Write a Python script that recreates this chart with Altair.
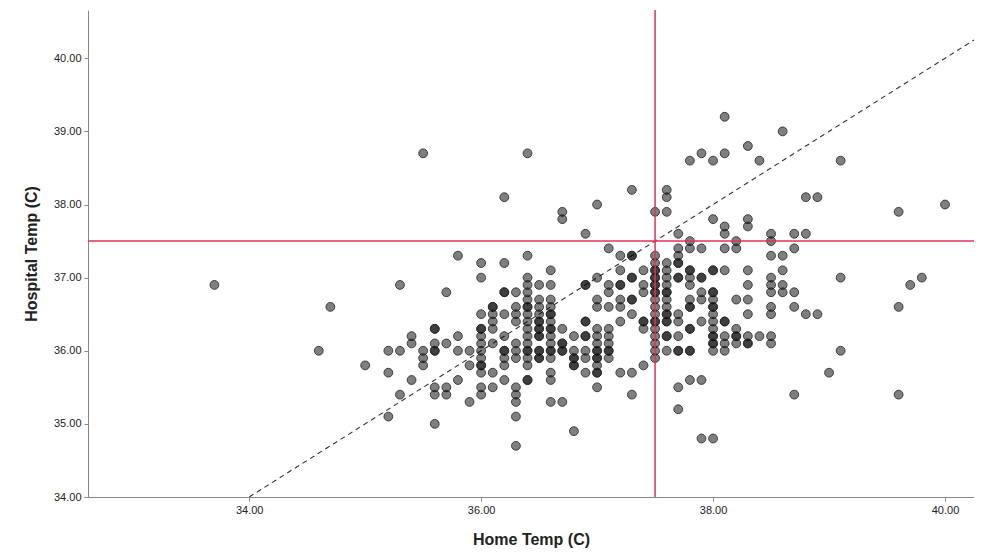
import altair as alt
import pandas as pd

# Home temperature columns (x) and the hospital temperatures (y) observed in each column
home_columns = [33.7, 34.6, 34.7, 35.0, 35.2, 35.3, 35.4, 35.5, 35.6, 35.7, 35.8, 35.9,
                36.0, 36.1, 36.2, 36.3, 36.4, 36.5, 36.6, 36.7, 36.8, 36.9,
                37.0, 37.1, 37.2, 37.3, 37.4, 37.5, 37.6, 37.7, 37.8, 37.9,
                38.0, 38.1, 38.2, 38.3, 38.4, 38.5, 38.6, 38.7, 38.8, 38.9,
                39.0, 39.1, 39.6, 39.7, 39.8, 40.0]
hospital_by_column = [
    [36.9],
    [36.0],
    [36.6],
    [35.8],
    [36.0, 35.7, 35.1],
    [36.9, 36.0, 35.4],
    [36.2, 36.1, 35.6],
    [38.7, 36.0, 35.9, 35.8],
    [36.3, 36.3, 36.1, 36.0, 36.0, 35.5, 35.4, 35.0],
    [36.8, 36.1, 35.5, 35.4],
    [37.3, 36.2, 36.0, 35.6],
    [36.0, 35.8, 35.3],
    [37.2, 37.0, 36.5, 36.3, 36.3, 36.2, 36.1, 36.0, 35.9, 35.8, 35.8, 35.7, 35.5, 35.4],
    [36.6, 36.6, 36.5, 36.4, 36.3, 36.1, 35.7, 35.5],
    [38.1, 37.2, 36.8, 36.8, 36.5, 36.2, 36.0, 36.0, 35.9, 35.8, 35.6],
    [36.8, 36.6, 36.5, 36.4, 36.1, 36.0, 35.9, 35.5, 35.4, 35.3, 35.1, 34.7],
    [38.7, 37.3, 37.0, 36.9, 36.8, 36.7, 36.6, 36.6, 36.5, 36.4, 36.3, 36.2, 36.1,
     36.0, 36.0, 35.9, 35.8, 35.6, 35.6],
    [36.9, 36.7, 36.6, 36.5, 36.4, 36.4, 36.3, 36.3, 36.2, 36.2, 36.0, 36.0, 35.9, 35.9],
    [37.1, 36.9, 36.7, 36.6, 36.5, 36.5, 36.4, 36.3, 36.3, 36.2, 36.1, 36.0, 36.0,
     35.9, 35.7, 35.6, 35.3],
    [37.9, 37.8, 36.3, 36.1, 36.1, 36.0, 36.0, 35.3],
    [36.2, 36.0, 35.9, 35.9, 35.8, 35.8, 34.9],
    [37.6, 36.9, 36.9, 36.4, 36.4, 36.2, 36.2, 36.0, 35.9, 35.7],
    [38.0, 37.0, 36.7, 36.6, 36.3, 36.2, 36.1, 36.0, 36.0, 35.9, 35.9, 35.8, 35.7, 35.7, 35.5],
    [37.4, 36.9, 36.8, 36.6, 36.3, 36.2, 36.1, 36.0, 36.0, 35.9],
    [37.3, 37.1, 36.9, 36.9, 36.7, 36.6, 36.4, 35.7],
    [38.2, 37.3, 37.3, 37.0, 37.0, 36.7, 36.7, 36.5, 35.7, 35.4],
    [37.1, 36.9, 36.8, 36.4, 36.4, 36.3, 35.8],
    [37.9, 37.3, 37.2, 37.1, 37.1, 37.0, 37.0, 36.9, 36.9, 36.8, 36.8, 36.7, 36.6,
     36.5, 36.4, 36.4, 36.3, 36.2, 36.1, 36.0, 35.9],
    [38.2, 38.1, 37.9, 37.2, 37.1, 37.0, 36.9, 36.8, 36.8, 36.7, 36.6, 36.5, 36.5,
     36.4, 36.4, 36.2, 36.2, 36.0],
    [37.6, 37.4, 37.3, 37.2, 37.2, 37.0, 37.0, 36.5, 36.4, 36.2, 36.0, 36.0, 35.5, 35.2],
    [38.6, 37.5, 37.4, 37.1, 37.1, 37.0, 36.9, 36.7, 36.6, 36.6, 36.3, 36.3, 36.0, 36.0, 35.6],
    [38.7, 37.4, 37.0, 37.0, 36.8, 36.7, 36.4, 35.6, 34.8],
    [38.6, 37.8, 37.1, 37.1, 36.8, 36.8, 36.7, 36.6, 36.6, 36.5, 36.4, 36.3, 36.2,
     36.2, 36.1, 36.1, 36.0, 34.8],
    [39.2, 38.7, 37.7, 37.6, 37.4, 37.1, 36.4, 36.4, 36.2, 36.1, 36.0],
    [37.5, 37.4, 36.7, 36.3, 36.2, 36.2, 36.1],
    [38.8, 37.8, 37.7, 37.1, 36.9, 36.7, 36.5, 36.2, 36.1, 36.1],
    [38.6, 36.2],
    [37.6, 37.5, 37.3, 37.0, 36.9, 36.8, 36.6, 36.5, 36.2, 36.1],
    [39.0, 37.3, 37.1, 36.9, 36.8],
    [37.6, 37.4, 36.8, 36.6, 35.4],
    [38.1, 37.6, 36.5],
    [38.1, 36.5],
    [35.7],
    [38.6, 37.0, 36.0],
    [37.9, 36.6, 35.4],
    [36.9],
    [37.0],
    [38.0],
]

ref_home = [37.5]
ref_hospital = [37.5]
identity_ends = [34.0, 40.25]
x_ticks = [34, 36, 38, 40]
y_ticks = [34, 35, 36, 37, 38, 39, 40]

rows = []
for hx, ys in zip(home_columns, hospital_by_column):
    for hy in ys:
        rows.append({"home": hx, "hosp": hy})
df = pd.DataFrame(rows)

xscale = alt.Scale(domain=[32.61, 40.25], nice=False, zero=False)
yscale = alt.Scale(domain=[34.0, 40.66], nice=False, zero=False)

xaxis = alt.Axis(values=x_ticks, format=".2f", title="Home Temp (C)", titlePadding=16)
yaxis = alt.Axis(values=y_ticks, format=".2f", title="Hospital Temp (C)", titlePadding=14)

points = alt.Chart(df).mark_circle(
    size=78, color="#000000", fillOpacity=0.5, stroke="#2a2a2a",
    strokeOpacity=0.85, strokeWidth=1, clip=True
).encode(
    x=alt.X("home:Q", scale=xscale, axis=xaxis),
    y=alt.Y("hosp:Q", scale=yscale, axis=yaxis),
)

line_df = pd.DataFrame({"home": identity_ends, "hosp": identity_ends})
identity = alt.Chart(line_df).mark_line(
    color="#333333", strokeWidth=1.1, strokeDash=[5, 4], clip=True
).encode(
    x=alt.X("home:Q", scale=xscale),
    y=alt.Y("hosp:Q", scale=yscale),
)

vrule = alt.Chart(pd.DataFrame({"home": ref_home})).mark_rule(
    color="#E2315C", strokeWidth=1.5
).encode(x=alt.X("home:Q", scale=xscale))

hrule = alt.Chart(pd.DataFrame({"hosp": ref_hospital})).mark_rule(
    color="#E2315C", strokeWidth=1.5
).encode(y=alt.Y("hosp:Q", scale=yscale))

chart = alt.layer(identity, points, vrule, hrule).properties(
    width=886, height=487,
    autosize=alt.AutoSizeParams(type="none"),
    padding={"left": 80, "top": 2, "right": 0, "bottom": 55},
).configure_view(stroke=None).configure_axis(
    grid=False,
    labelFont="Liberation Sans", labelFontSize=11, labelColor="#222222",
    titleFont="Liberation Sans", titleFontSize=16, titleFontWeight="bold",
    titleColor="#222222",
    domainColor="#888888", tickColor="#888888", tickSize=4, labelPadding=3,
)

chart.save("out.html", embed_options={"renderer": "svg", "actions": False})
